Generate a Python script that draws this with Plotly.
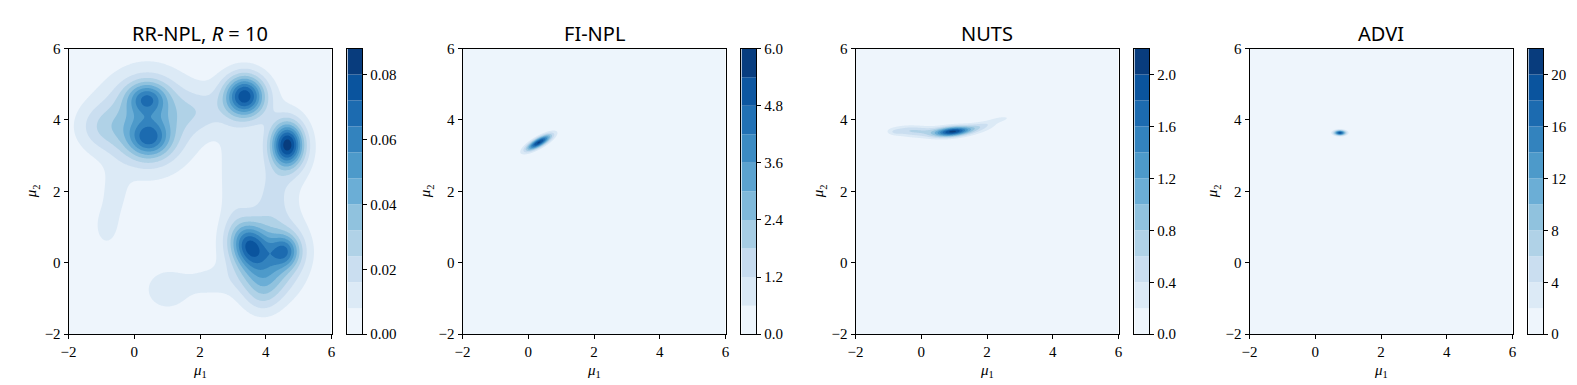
import numpy as np
import plotly.graph_objects as go
from plotly.colors import sample_colorscale, sequential

titles = ["RR-NPL, <i>R</i> = 10", "FI-NPL", "NUTS", "ADVI"]
level_step = [0.008, 0.6, 0.2, 2.0]
n_bands = [11, 10, 11, 11]
cbar_ticks = [
    [0.0, 0.02, 0.04, 0.06, 0.08],
    [0.0, 1.2, 2.4, 3.6, 4.8, 6.0],
    [0.0, 0.4, 0.8, 1.2, 1.6, 2.0],
    [0, 4, 8, 12, 16, 20],
]
cbar_format = [".2f", ".1f", ".1f", "d"]
axis_ticks = [-2, 0, 2, 4, 6]

# density components: centre, spread, rotation, height
rr_mx = [0.38, 0.45, 0.42, 0.35, -1.0, 3.36, 3.3, 2.0, 4.66, 4.6, 3.48, 4.6, 4.0, 4.0, 3.95, 3.9, 4.2, 3.0, -0.85, -0.6, 1.0, 2.2]
rr_my = [4.62, 3.47, 4.0, 3.95, 3.8, 4.67, 4.6, 4.25, 3.31, 3.1, 0.48, 0.33, 0.35, 0.2, -0.4, -1.0, 2.0, 2.3, 1.0, 1.9, -0.75, -0.55]
rr_sx = [0.42, 0.44, 0.75, 1.2, 0.55, 0.43, 0.9, 0.6, 0.34, 0.7, 0.36, 0.32, 0.75, 1.0, 0.55, 0.4, 0.4, 0.35, 0.3, 0.3, 0.5, 0.5]
rr_sy = [0.31, 0.36, 0.85, 1.0, 0.45, 0.41, 0.8, 0.4, 0.43, 0.9, 0.44, 0.33, 0.75, 1.0, 0.45, 0.4, 0.6, 1.0, 0.45, 0.5, 0.42, 0.3]
rr_rot = [0, 0, 0, 0, 0, 0, 0, 0, 0, 0, 30, 0, 0, 0, 0, 0, 0, 0, 0, 0, 0, 0]
rr_amp = [0.035, 0.036, 0.02, 0.02, 0.013, 0.07, 0.006, 0.011, 0.072, 0.012, 0.045, 0.037, 0.028, 0.008, 0.018, 0.01, 0.01, 0.01, 0.011, 0.009, 0.015, 0.009]

fi_mx = [0.32]
fi_my = [3.37]
fi_sx = [0.3]
fi_sy = [0.088]
fi_rot = [27.5]
fi_amp = [5.5]

nuts_mx = [0.95, 0.8, -0.35, 1.8, 2.4, -0.8]
nuts_my = [3.67, 3.68, 3.71, 3.83, 4.02, 3.66]
nuts_sx = [0.35, 0.7, 0.42, 0.4, 0.22, 0.15]
nuts_sy = [0.09, 0.11, 0.1, 0.09, 0.05, 0.06]
nuts_rot = [6, 4, 0, 12, 10, 0]
nuts_amp = [1.45, 0.6, 0.5, 0.35, 0.25, 0.2]

advi_mx = [0.75]
advi_my = [3.64]
advi_sx = [0.125]
advi_sy = [0.05]
advi_rot = [0]
advi_amp = [19.0]

components = [
    (rr_mx, rr_my, rr_sx, rr_sy, rr_rot, rr_amp),
    (fi_mx, fi_my, fi_sx, fi_sy, fi_rot, fi_amp),
    (nuts_mx, nuts_my, nuts_sx, nuts_sy, nuts_rot, nuts_amp),
    (advi_mx, advi_my, advi_sx, advi_sy, advi_rot, advi_amp),
]
# fine sampling window for each panel (padded out to the full axis range)
grid_x = [(-2, 6, 321), (-1.0, 1.6, 261), (-1.6, 3.4, 501), (0.3, 1.25, 191)]
grid_y = [(-2, 6, 321), (2.7, 4.1, 281), (3.2, 4.4, 241), (3.35, 3.9, 111)]


def padded(a, b, n):
    g = np.linspace(a, b, n)
    if a > -2:
        g = np.concatenate([[-2.0], g])
    if b < 6:
        g = np.concatenate([g, [6.0]])
    return g


def density(gx, gy, mx, my, sx, sy, rot, amp):
    X, Y = np.meshgrid(gx, gy)
    z = np.zeros_like(X)
    for cx, cy, a, b, r, h in zip(mx, my, sx, sy, rot, amp):
        t = np.deg2rad(r)
        u = (X - cx) * np.cos(t) + (Y - cy) * np.sin(t)
        v = -(X - cx) * np.sin(t) + (Y - cy) * np.cos(t)
        z += h * np.exp(-0.5 * (u / a) ** 2 - 0.5 * (v / b) ** 2)
    return np.round(z, 6)


W, H = 1577, 385
plot_left = [53, 450, 846, 1243]
plot_w = 265
cbar_left = [334, 731, 1127, 1524]
cbar_w = 15
top, bottom = 34, 332

font_serif = "Liberation Serif"
blues = sequential.Blues

fig = go.Figure()
layout = dict(
    width=W,
    height=H,
    margin=dict(l=0, r=0, t=0, b=0),
    paper_bgcolor="white",
    plot_bgcolor="white",
    showlegend=False,
    barmode="overlay",
)
annotations = []

for i in range(4):
    n = n_bands[i]
    d = level_step[i]
    mids = [(k + 0.5) / n for k in range(n)]
    band_colors = sample_colorscale(blues, mids)
    cscale = [[k / (n - 1), band_colors[k]] for k in range(n)]

    gx = padded(*grid_x[i])
    gy = padded(*grid_y[i])
    z = density(gx, gy, *components[i])

    ma = 2 * i + 1
    ca = 2 * i + 2
    mref = "" if ma == 1 else str(ma)
    cref = str(ca)

    fig.add_trace(
        go.Contour(
            x=gx,
            y=gy,
            z=z,
            autocontour=False,
            contours=dict(start=d, end=(n - 1) * d, size=d, coloring="fill", showlines=False),
            colorscale=cscale,
            showscale=False,
            line=dict(width=0, smoothing=1),
            hoverinfo="skip",
            xaxis="x" + mref,
            yaxis="y" + mref,
        )
    )

    levels = [k * d for k in range(n)]
    fig.add_trace(
        go.Bar(
            x=[0] * n,
            y=[d] * n,
            base=levels,
            width=1,
            marker=dict(color=band_colors, line=dict(width=0)),
            hoverinfo="skip",
            xaxis="x" + cref,
            yaxis="y" + cref,
        )
    )

    axis_common = dict(
        showline=True,
        linecolor="black",
        linewidth=1,
        mirror=True,
        showgrid=False,
        zeroline=False,
        ticks="outside",
        ticklen=4,
        tickcolor="black",
        tickfont=dict(family=font_serif, size=15, color="black"),
    )
    layout["xaxis" + mref] = dict(
        axis_common,
        domain=[plot_left[i] / W, (plot_left[i] + plot_w) / W],
        range=[-2, 6],
        tickvals=axis_ticks,
        anchor="y" + mref,
    )
    layout["yaxis" + mref] = dict(
        axis_common,
        domain=[1 - bottom / H, 1 - top / H],
        range=[-2, 6],
        tickvals=axis_ticks,
        anchor="x" + mref,
    )
    layout["xaxis" + cref] = dict(
        axis_common,
        domain=[cbar_left[i] / W, (cbar_left[i] + cbar_w) / W],
        range=[-0.5, 0.5],
        ticks="",
        showticklabels=False,
        anchor="y" + cref,
    )
    layout["yaxis" + cref] = dict(
        axis_common,
        domain=[1 - bottom / H, 1 - top / H],
        range=[0, n * d],
        tickvals=cbar_ticks[i],
        tickformat=cbar_format[i],
        side="right",
        anchor="x" + cref,
    )

    cx = (plot_left[i] + plot_w / 2) / W
    annotations.append(dict(
        text=titles[i], x=cx, y=1 - 18 / H, xref="paper", yref="paper",
        showarrow=False, xanchor="center", yanchor="middle",
        font=dict(family="Noto Sans", size=20, color="black"),
    ))
    annotations.append(dict(
        text="<i>μ</i><sub>1</sub>", x=cx, y=1 - 370 / H, xref="paper", yref="paper",
        showarrow=False, xanchor="center", yanchor="middle",
        font=dict(family=font_serif, size=15, color="black"),
    ))
    annotations.append(dict(
        text="<i>μ</i><sub>2</sub>", x=(plot_left[i] - 36) / W, y=1 - 183 / H,
        xref="paper", yref="paper", textangle=-90,
        showarrow=False, xanchor="center", yanchor="middle",
        font=dict(family=font_serif, size=15, color="black"),
    ))

layout["annotations"] = annotations
fig.update_layout(**layout)
fig.write_html("out.html")
